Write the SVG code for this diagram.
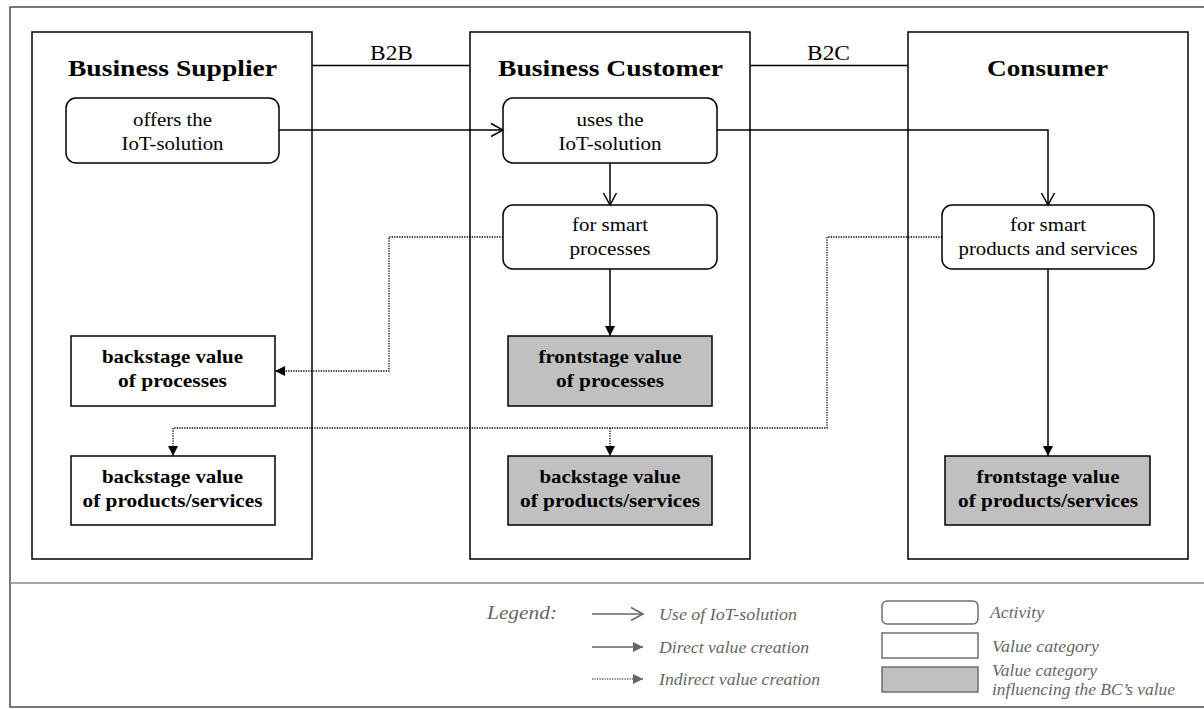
<svg xmlns="http://www.w3.org/2000/svg" width="1204" height="709" viewBox="0 0 1204 709" font-family="Liberation Serif">
<style>
text{text-anchor:middle;fill:#000}
.title{font-size:24px;font-weight:bold}
.rel{font-size:21px}
.act{font-size:19px}
.val{font-size:19px;font-weight:bold}
.lane{fill:#fff;stroke:#000;stroke-width:1.5}
.actbox{fill:#fff;stroke:#000;stroke-width:1.5}
.vbox{fill:#fff;stroke:#000;stroke-width:1.5}
.gbox{fill:#c0c0c0;stroke:#000;stroke-width:1.5}
.ln{fill:none;stroke:#000;stroke-width:1.5}
.dot{fill:none;stroke:#000;stroke-width:1.3;stroke-dasharray:1.3 1.2}
.leg{font-size:16px;font-style:italic;fill:#666;text-anchor:start}
.lgln{fill:none;stroke:#666;stroke-width:1.5}
.lgdot{fill:none;stroke:#666;stroke-width:1.3;stroke-dasharray:1.3 1.2}
.lgbox{fill:#fff;stroke:#6e6e6e;stroke-width:1.5}
</style>
<defs>
<marker id="open" markerUnits="userSpaceOnUse" markerWidth="14" markerHeight="14" refX="12" refY="6.5" orient="auto" overflow="visible"><path d="M0,0 L12,6.5 L0,13" fill="none" stroke="#000" stroke-width="1.5"/></marker>
<marker id="fill" markerUnits="userSpaceOnUse" markerWidth="12" markerHeight="12" refX="10" refY="5" orient="auto" overflow="visible"><path d="M0,0 L10,5 L0,10 z" fill="#000"/></marker>
<marker id="gopen" markerUnits="userSpaceOnUse" markerWidth="14" markerHeight="14" refX="12" refY="6.5" orient="auto" overflow="visible"><path d="M0,0 L12,6.5 L0,13" fill="none" stroke="#666" stroke-width="1.5"/></marker>
<marker id="gfill" markerUnits="userSpaceOnUse" markerWidth="12" markerHeight="12" refX="10" refY="5" orient="auto" overflow="visible"><path d="M0,0 L10,5 L0,10 z" fill="#666"/></marker>
</defs>
<rect x="0" y="0" width="1204" height="709" fill="#fff"/>
<g id="frame">
<rect x="10" y="7" width="1200" height="700" fill="none" stroke="#333" stroke-width="1.3"/>
<line x1="10" y1="583" x2="1204" y2="583" stroke="#888" stroke-width="1.5"/>
</g>
<g id="lane-supplier">
<rect class="lane" x="32" y="32" width="280" height="527"/>
<text class="title" x="172.5" y="76" textLength="209" lengthAdjust="spacingAndGlyphs">Business Supplier</text>
</g>
<g id="lane-customer">
<rect class="lane" x="470" y="32" width="280" height="527"/>
<text class="title" x="610.5" y="76" textLength="225" lengthAdjust="spacingAndGlyphs">Business Customer</text>
</g>
<g id="lane-consumer">
<rect class="lane" x="908" y="32" width="280" height="527"/>
<text class="title" x="1047.5" y="76" textLength="121" lengthAdjust="spacingAndGlyphs">Consumer</text>
</g>
<g id="relations">
<line class="ln" x1="312" y1="65.5" x2="470" y2="65.5"/>
<text class="rel" x="391.5" y="60" textLength="43" lengthAdjust="spacingAndGlyphs">B2B</text>
<line class="ln" x1="750" y1="65.5" x2="908" y2="65.5"/>
<text class="rel" x="828.5" y="60" textLength="43" lengthAdjust="spacingAndGlyphs">B2C</text>
</g>
<g id="offers">
<rect class="actbox" x="66" y="98" width="213" height="65" rx="10"/>
<text class="act" x="172.5" y="126" textLength="79" lengthAdjust="spacingAndGlyphs">offers the</text>
<text class="act" x="172.5" y="150" textLength="102" lengthAdjust="spacingAndGlyphs">IoT-solution</text>
</g>
<g id="uses">
<rect class="actbox" x="503" y="98" width="214" height="65" rx="10"/>
<text class="act" x="610" y="126" textLength="67" lengthAdjust="spacingAndGlyphs">uses the</text>
<text class="act" x="610" y="150" textLength="103" lengthAdjust="spacingAndGlyphs">IoT-solution</text>
</g>
<g id="smart-processes">
<rect class="actbox" x="503" y="205" width="214" height="64" rx="10"/>
<text class="act" x="610" y="231" textLength="76" lengthAdjust="spacingAndGlyphs">for smart</text>
<text class="act" x="610" y="255" textLength="81" lengthAdjust="spacingAndGlyphs">processes</text>
</g>
<g id="smart-products">
<rect class="actbox" x="942" y="205" width="212" height="64" rx="10"/>
<text class="act" x="1048" y="231" textLength="76" lengthAdjust="spacingAndGlyphs">for smart</text>
<text class="act" x="1048" y="255" textLength="179" lengthAdjust="spacingAndGlyphs">products and services</text>
</g>
<g id="bs-processes">
<rect class="vbox" x="71" y="336" width="204" height="70"/>
<text class="val" x="172.5" y="363" textLength="141" lengthAdjust="spacingAndGlyphs">backstage value</text>
<text class="val" x="172.5" y="387" textLength="109" lengthAdjust="spacingAndGlyphs">of processes</text>
</g>
<g id="bs-products-supplier">
<rect class="vbox" x="71" y="456" width="204" height="69"/>
<text class="val" x="172.5" y="483" textLength="141" lengthAdjust="spacingAndGlyphs">backstage value</text>
<text class="val" x="172.5" y="507" textLength="180" lengthAdjust="spacingAndGlyphs">of products/services</text>
</g>
<g id="fs-processes">
<rect class="gbox" x="508" y="336" width="204" height="70"/>
<text class="val" x="610" y="363" textLength="143" lengthAdjust="spacingAndGlyphs">frontstage value</text>
<text class="val" x="610" y="387" textLength="108" lengthAdjust="spacingAndGlyphs">of processes</text>
</g>
<g id="bs-products-customer">
<rect class="gbox" x="508" y="456" width="204" height="69"/>
<text class="val" x="610" y="483" textLength="141" lengthAdjust="spacingAndGlyphs">backstage value</text>
<text class="val" x="610" y="507" textLength="180" lengthAdjust="spacingAndGlyphs">of products/services</text>
</g>
<g id="fs-products">
<rect class="gbox" x="945" y="456" width="205" height="69"/>
<text class="val" x="1048" y="483" textLength="143" lengthAdjust="spacingAndGlyphs">frontstage value</text>
<text class="val" x="1048" y="507" textLength="180" lengthAdjust="spacingAndGlyphs">of products/services</text>
</g>
<g id="connectors">
<path class="ln" d="M279,130 H503" marker-end="url(#open)"/>
<path class="ln" d="M717,130 H1048 V205" marker-end="url(#open)"/>
<path class="ln" d="M610,163 V205" marker-end="url(#open)"/>
<path class="ln" d="M610,269 V336" marker-end="url(#fill)"/>
<path class="ln" d="M1048,269 V456" marker-end="url(#fill)"/>
<path class="dot" d="M503,237 H389 V371 H275" marker-end="url(#fill)"/>
<path class="dot" d="M942,237 H827 V428 H173 V456" marker-end="url(#fill)"/>
<path class="dot" d="M610,428 V456" marker-end="url(#fill)"/>
</g>
<g id="legend">
<text class="leg" x="487" y="619" style="font-size:18px" textLength="70" lengthAdjust="spacingAndGlyphs">Legend:</text>
<path class="lgln" d="M592,614 H643" marker-end="url(#gopen)"/>
<text class="leg" x="659" y="620" textLength="138" lengthAdjust="spacingAndGlyphs">Use of IoT-solution</text>
<path class="lgln" d="M592,647 H643" marker-end="url(#gfill)"/>
<text class="leg" x="659" y="653" textLength="150" lengthAdjust="spacingAndGlyphs">Direct value creation</text>
<path class="lgdot" d="M592,679 H643" marker-end="url(#gfill)"/>
<text class="leg" x="659" y="685" textLength="161" lengthAdjust="spacingAndGlyphs">Indirect value creation</text>
<rect class="lgbox" x="882" y="601" width="96" height="23" rx="5"/>
<text class="leg" x="990" y="618" textLength="54" lengthAdjust="spacingAndGlyphs">Activity</text>
<rect class="lgbox" x="882" y="633" width="96" height="25"/>
<text class="leg" x="992" y="652" textLength="107" lengthAdjust="spacingAndGlyphs">Value category</text>
<rect class="lgbox" x="882" y="667" width="96" height="25" style="fill:#c0c0c0"/>
<text class="leg" x="992" y="676" textLength="105" lengthAdjust="spacingAndGlyphs">Value category</text>
<text class="leg" x="992" y="695" textLength="183" lengthAdjust="spacingAndGlyphs">influencing the BC’s value</text>
</g>
</svg>
